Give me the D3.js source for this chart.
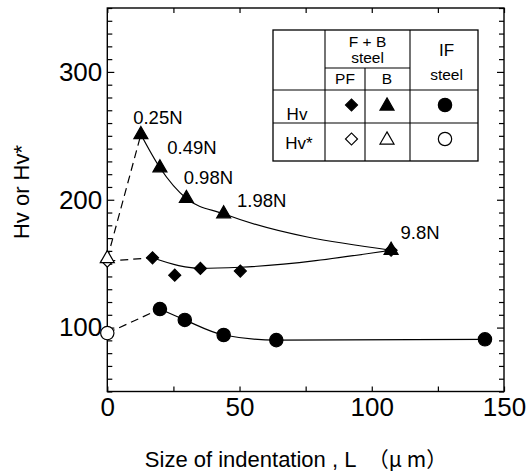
<!DOCTYPE html>
<html>
<head>
<meta charset="UTF-8">
<script src="https://d3js.org/d3.v7.min.js"></script>
<style>
  body { margin: 0; background: #fff; }
  svg { font-family: Arial, "Liberation Sans", Helvetica, sans-serif; }
  .tick line { stroke: #000; stroke-width: 1.2px; }
</style>
</head>
<body>
<div id="chart"></div>
<script>
// ---- data ----
var loads   = ["0.25N", "0.49N", "0.98N", "1.98N", "9.8N"];
var bL      = [12.7, 19.9, 29.9, 44.0, 107.3];   // bainite, Hv
var bHv     = [251, 225, 201, 189, 160.5];
var pfL     = [17.1, 25.5, 35.2, 50.3, 107.3];   // polygonal ferrite, Hv
var pfHv    = [154.6, 141, 146.3, 144.2, 160.5];
var pfFitL  = [17.1, 27, 35.2, 50.3, 107.3];     // fitted curve for PF
var pfFitHv = [154.6, 148.5, 146.3, 147.2, 160.5];
var ifL     = [19.9, 29.3, 44.0, 63.9, 142.8];   // IF steel, Hv
var ifHv    = [114.5, 106, 94.2, 90.2, 90.8];
var starHv  = { b: 154, pf: 152, ifs: 95.7 };    // Hv* at L = 0
var xTicks  = [0, 25, 50, 75, 100, 125, 150];
var yTicks  = d3.range(50, 351, 10);

var width = 531, height = 475;

var x = d3.scaleLinear().domain([0, 150]).range([107.3, 504]);
var y = d3.scaleLinear().domain([50, 350]).range([391.5, 8]);

var svg = d3.select("#chart").append("svg")
    .attr("width", width)
    .attr("height", height);

// frame
svg.append("rect")
    .attr("x", x(0)).attr("y", y(350))
    .attr("width", x(150) - x(0)).attr("height", y(50) - y(350))
    .attr("fill", "none").attr("stroke", "#000").attr("stroke-width", 1.4);

// axes, ticks pointing inward
var xb = svg.append("g").attr("transform", "translate(0," + y(50) + ")")
    .call(d3.axisBottom(x).tickValues(xTicks).tickSize(-5).tickPadding(10)
      .tickFormat(function(d) { return d % 50 === 0 ? d : ""; }));
var xt = svg.append("g").attr("transform", "translate(0," + y(350) + ")")
    .call(d3.axisTop(x).tickValues(xTicks).tickSize(-5).tickFormat(""));
var yl = svg.append("g").attr("transform", "translate(" + x(0) + ",0)")
    .call(d3.axisLeft(y).tickValues(yTicks).tickPadding(5)
      .tickSize(-5)
      .tickFormat(function(d) { return d % 100 === 0 ? d : ""; }));
var yr = svg.append("g").attr("transform", "translate(" + x(150) + ",0)")
    .call(d3.axisRight(y).tickValues(yTicks).tickSize(-5).tickFormat(""));

[xb, xt, yl, yr].forEach(function(g) {
  g.select(".domain").remove();
  g.selectAll("text").attr("font-size", 26).attr("fill", "#000")
    .attr("font-family", "Arial, 'Liberation Sans', sans-serif");
});
xb.selectAll("text").attr("dy", "0.75em").attr("y", 5);
yl.selectAll(".tick line").filter(function(d) { return d % 100 === 0; }).attr("x2", 7);
yr.selectAll(".tick line").filter(function(d) { return d % 100 === 0; }).attr("x2", -7);

// axis titles
svg.append("text")
    .attr("transform", "translate(29,192) rotate(-90)")
    .attr("text-anchor", "middle")
    .attr("font-size", 22)
    .text("Hv or Hv*");

var xt2 = svg.append("text")
    .attr("x", 296).attr("y", 467)
    .attr("text-anchor", "middle")
    .attr("font-size", 22);
xt2.append("tspan").text("Size of indentation , L \u00a0");
xt2.append("tspan").attr("font-family", "'Noto Sans CJK JP', sans-serif").attr("font-size", 21)
    .text("\uff08\u03bc m\uff09");

// curves
var curve = d3.line().x(function(d) { return x(d[0]); }).y(function(d) { return y(d[1]); });
var zip = function(a, b) { return a.map(function(v, i) { return [v, b[i]]; }); };

var lines = svg.append("g").attr("fill", "none").attr("stroke", "#000").attr("stroke-width", 1.2);

lines.append("path").attr("d", curve.curve(d3.curveMonotoneX)(zip(bL, bHv)));
lines.append("path").attr("d", curve.curve(d3.curveMonotoneX)(zip(pfFitL, pfFitHv)));
lines.append("path").attr("d", curve.curve(d3.curveMonotoneX)(zip(ifL, ifHv)));

// dashed extrapolations to Hv*
var dashed = [
  [[0, starHv.b], [bL[0], bHv[0]]],
  [[0, starHv.pf], [pfL[0], pfHv[0]]],
  [[0, starHv.ifs], [ifL[0], ifHv[0]]]
];
lines.selectAll(".dash").data(dashed).enter().append("path")
    .attr("class", "dash")
    .attr("stroke-dasharray", "8,5")
    .attr("d", curve.curve(d3.curveLinear));

// markers
var tri = d3.symbol().type(d3.symbolTriangle).size(85);
var dia = d3.symbol().type(d3.symbolSquare).size(72);
var cir = d3.symbol().type(d3.symbolCircle).size(140);

function marks(xs, ys, gen, rot, fill) {
  svg.append("g").selectAll("path").data(zip(xs, ys)).enter().append("path")
      .attr("d", gen)
      .attr("transform", function(d) {
        return "translate(" + x(d[0]) + "," + y(d[1]) + ")" + (rot ? " rotate(45)" : "");
      })
      .attr("fill", fill).attr("stroke", "#000").attr("stroke-width", 1.2);
}
marks(pfL, pfHv, dia, true, "#000");
marks(bL, bHv, tri, false, "#000");
marks(ifL, ifHv, cir, false, "#000");
marks([0], [starHv.pf], dia, true, "#fff");
marks([0], [starHv.b], tri, false, "#fff");
marks([0], [starHv.ifs], cir, false, "#fff");

// load labels
var labelOffset = [[17, -17], [32, -20], [22, -21], [38, -13], [29, -18]];
svg.append("g").selectAll("text").data(loads).enter().append("text")
    .attr("x", function(d, i) { return x(bL[i]) + labelOffset[i][0]; })
    .attr("y", function(d, i) { return y(bHv[i]) + labelOffset[i][1]; })
    .attr("dy", "0.35em")
    .attr("text-anchor", "middle")
    .attr("font-size", 18.5)
    .text(function(d) { return d; });

// legend table
var tb = svg.append("g");
tb.append("rect").attr("x", 273).attr("y", 30).attr("width", 205).attr("height", 131)
    .attr("fill", "#fff").attr("stroke", "#000").attr("stroke-width", 1.3);
var tlines = [
  [325, 30, 325, 161], [410, 30, 410, 161], [365, 68, 365, 161],
  [325, 68, 410, 68], [273, 90, 478, 90], [273, 123, 478, 123]
];
tb.selectAll("line").data(tlines).enter().append("line")
    .attr("x1", function(d) { return d[0]; }).attr("y1", function(d) { return d[1]; })
    .attr("x2", function(d) { return d[2]; }).attr("y2", function(d) { return d[3]; })
    .attr("stroke", "#000").attr("stroke-width", 1.1);
var ttext = [
  ["F + B", 367.5, 42, 15.5], ["steel", 367.5, 58, 15.5], ["PF", 345, 79, 15.5], ["B", 387, 79, 15.5],
  ["IF", 446.5, 50, 17], ["steel", 446.5, 75, 15.5], ["Hv", 297, 114, 17], ["Hv*", 299, 143, 17]
];
tb.selectAll("text").data(ttext).enter().append("text")
    .attr("x", function(d) { return d[1]; }).attr("y", function(d) { return d[2]; })
    .attr("dy", "0.35em").attr("text-anchor", "middle")
    .attr("font-size", function(d) { return d[3]; })
    .text(function(d) { return d[0]; });
var legSym = [
  [dia, true, "#000", 351.5, 105], [tri, false, "#000", 387, 106], [cir, false, "#000", 445, 105],
  [dia, true, "#fff", 351.5, 139], [tri, false, "#fff", 387, 140], [cir, false, "#fff", 445, 139]
];
tb.selectAll(".sym").data(legSym).enter().append("path")
    .attr("class", "sym")
    .attr("d", function(d) { return d[0](); })
    .attr("transform", function(d) { return "translate(" + d[3] + "," + d[4] + ")" + (d[1] ? " rotate(45)" : ""); })
    .attr("fill", function(d) { return d[2]; })
    .attr("stroke", "#000").attr("stroke-width", 1.2);
</script>
</body>
</html>
